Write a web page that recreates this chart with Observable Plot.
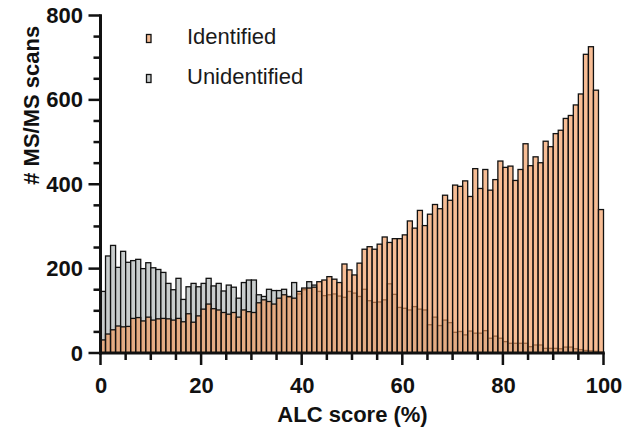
<!DOCTYPE html>
<html>
<head>
<meta charset="utf-8">
<script src="https://cdn.jsdelivr.net/npm/d3@7"></script>
<script src="https://cdn.jsdelivr.net/npm/@observablehq/plot@0.6"></script>
<style>
  html, body { margin: 0; padding: 0; background: #fff; }
  #chart svg { font-family: "Liberation Sans", Arial, sans-serif; background: #fff; }
</style>
</head>
<body>
<div id="chart"></div>
<script>
// Bin start values (ALC score %, bin width 1)
const binStarts = d3.range(0, 100);

// # MS/MS scans per bin, identified (orange)
const identified = [
  31, 45, 55, 64, 62, 63, 82, 84, 76, 85, 78, 81, 82, 81, 78, 82, 74, 93, 73, 88, 104, 116, 105, 102, 96,
  92, 96, 85, 102, 98, 96, 119, 126, 122, 116, 130, 138,
  134, 130, 146, 154, 154, 156, 169, 173, 181, 175, 167, 211,
  197, 185, 213, 246, 252, 246, 258, 275, 262, 271, 271, 280, 313, 296, 338, 302, 329, 352, 342, 374, 362, 398, 395, 408, 371, 437,
  390, 435, 386, 411, 455, 440, 443, 409, 435, 496, 444, 465, 451, 502, 489, 520, 528, 556, 563, 588, 614, 708, 726, 623, 340
];

// # MS/MS scans per bin, unidentified (gray)
const unidentified = [
  146, 230, 255, 203, 241, 215, 219, 222, 200, 214, 202, 198, 191, 165, 150, 177, 127, 157, 165, 157, 165, 177, 159, 165, 147,
  161, 156, 130, 167, 173, 173, 138, 134, 151, 148, 148, 151,
  132, 167, 140, 150, 169, 161, 146, 136, 138, 140, 135, 132,
  146, 142, 134, 151, 124, 120, 121, 126, 164, 139, 108, 106, 102, 110, 104, 102, 67, 85, 65, 78, 72, 49, 51, 43, 52, 47,
  47, 53, 35, 40, 35, 27, 23, 23, 23, 23, 15, 19, 19, 11, 11, 11, 10, 14, 14, 10, 8, 6, 5, 4, 2
];

const seriesNames = ["Identified", "Unidentified"];
const xMajorTicks = [0, 20, 40, 60, 80, 100];
const xMinorTicks = [5, 10, 15, 25, 30, 35, 45, 50, 55, 65, 70, 75, 85, 90, 95];
const yMajorTicks = [0, 200, 400, 600, 800];
const yMinorTicks = [50, 100, 150, 250, 300, 350, 450, 500, 550, 650, 700, 750];
const xTitle = "ALC score (%)";
const yTitle = "# MS/MS scans";

const orange = "#F39A5C";
const orangeOpacity = 0.65;
const gray = "#C9CDCD";
const ink = "#111";

const idData = binStarts.map((b, i) => ({bin: b, value: identified[i]}));
const unData = binStarts.map((b, i) => ({bin: b, value: unidentified[i]}));

const boldText = {fontSize: 22, fontWeight: "bold", fill: ink};

const chart = Plot.plot({
  width: 625,
  height: 437,
  marginLeft: 100.5,
  marginRight: 21.5,
  marginTop: 15.5,
  marginBottom: 84,
  x: {domain: [0, 100]},
  y: {domain: [0, 800]},
  marks: [
    Plot.rectY(unData, {x1: "bin", x2: d => d.bin + 1, y: "value", fill: gray, stroke: ink, strokeWidth: 1.3}),
    Plot.rectY(idData, {x1: "bin", x2: d => d.bin + 1, y: "value", fill: orange, fillOpacity: orangeOpacity, stroke: ink, strokeWidth: 1.3}),
    Plot.axisX(xMajorTicks, {tickSize: 0, tickPadding: 24, label: null, ...boldText}),
    Plot.axisY(yMajorTicks, {tickSize: 0, tickPadding: 18, label: null, ...boldText}),
    Plot.text([yTitle], {text: d => d, frameAnchor: "left", dx: -69, rotate: -90, ...boldText}),
    Plot.text([xTitle], {text: d => d, frameAnchor: "bottom", dy: 68, ...boldText})
  ]
});

// Axis lines and ticks, positioned through Plot's own scales
const sx = chart.scale("x"), sy = chart.scale("y");
const svg = d3.select(chart);
const axes = svg.append("g").attr("fill", ink).attr("stroke", "none");
const x0 = sx.apply(0), x100 = sx.apply(100), y0 = sy.apply(0), y800 = sy.apply(800);
// y axis line
axes.append("rect").attr("x", x0 - 1.5).attr("y", y800 - 1.25).attr("width", 3).attr("height", y0 - y800 + 2.75);
// x axis line
axes.append("rect").attr("x", x0 - 1.5).attr("y", y0 - 1.5).attr("width", x100 - x0 + 2.75).attr("height", 3);
// x ticks
xMinorTicks.forEach(t => axes.append("rect").attr("x", sx.apply(t) - 1.25).attr("y", y0).attr("width", 2.5).attr("height", 7));
xMajorTicks.forEach(t => axes.append("rect").attr("x", sx.apply(t) - 1.25).attr("y", y0).attr("width", 2.5).attr("height", 12));
// y ticks
yMinorTicks.forEach(t => axes.append("rect").attr("x", x0 - 7).attr("y", sy.apply(t) - 1.25).attr("width", 7).attr("height", 2.5));
yMajorTicks.forEach(t => axes.append("rect").attr("x", x0 - 12).attr("y", sy.apply(t) - 1.25).attr("width", 12).attr("height", 2.5));

// Legend (inside the plot area, top-left)
const legend = svg.append("g").attr("text-anchor", "start");
const legendItems = [
  {name: seriesNames[0], fill: orange, opacity: orangeOpacity},
  {name: seriesNames[1], fill: gray, opacity: 1}
];
legendItems.forEach((item, i) => {
  const g = legend.append("g").attr("transform", `translate(0, ${i * 40})`);
  g.append("rect").attr("x", 146.5).attr("y", 34.5).attr("width", 4.5).attr("height", 8)
    .attr("fill", item.fill).attr("fill-opacity", item.opacity).attr("stroke", ink).attr("stroke-width", 1.3);
  g.append("text").attr("x", 187).attr("y", 43.5).attr("font-size", 22).attr("fill", "#1a1a1a")
    .attr("text-anchor", "start").text(item.name);
});

document.getElementById("chart").appendChild(chart);
</script>
</body>
</html>
